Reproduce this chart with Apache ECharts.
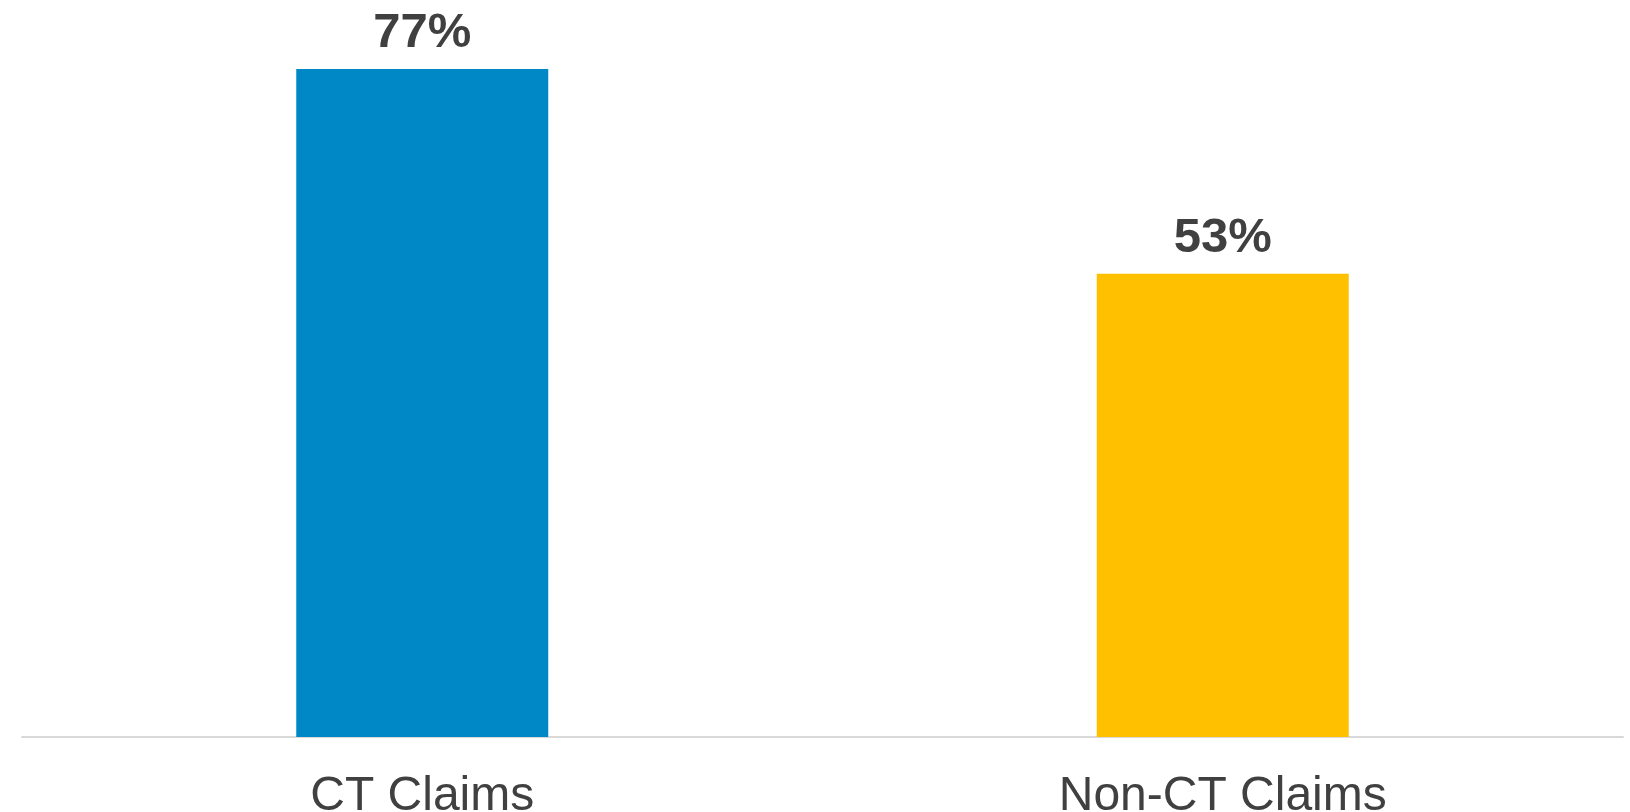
<!DOCTYPE html>
<html>
<head>
<meta charset="utf-8">
<script src="https://cdn.jsdelivr.net/npm/echarts@6/dist/echarts.min.js"></script>
<style>
  html,body{margin:0;padding:0;background:#fff;}
  #chart{width:1630px;height:812px;}
</style>
</head>
<body>
<div id="chart"></div>
<script>
var categories = ['CT Claims', 'Non-CT Claims'];
var shares = [77, 53.4]; // percent
var barColors = ['#0088c6', '#ffc000'];

var chart = echarts.init(document.getElementById('chart'), null, {renderer: 'canvas'});

var option = {
    animation: false,
    grid: {left: 22, right: 7, top: 43, bottom: 75, containLabel: false, outerBoundsMode: 'none'},
    xAxis: {
        type: 'category',
        data: categories,
        axisLine: {show: true, lineStyle: {color: '#d9d9d9', width: 2}},
        axisTick: {show: false},
        axisLabel: {
            color: '#404040',
            fontFamily: 'Liberation Sans, Arial, sans-serif',
            fontSize: 48,
            margin: 36
        }
    },
    yAxis: {
        type: 'value',
        min: 0,
        max: 80,
        show: false,
        splitLine: {show: false}
    },
    series: [{
        type: 'bar',
        barWidth: 252,
        data: shares.map(function(v, i){
            return {value: v, itemStyle: {color: barColors[i]}};
        }),
        label: {
            show: true,
            position: 'top',
            distance: 11,
            color: '#404040',
            fontFamily: 'Liberation Sans, Arial, sans-serif',
            fontWeight: 'bold',
            fontSize: 49,
            formatter: function(p){ return Math.round(p.value) + '%'; }
        }
    }]
};
chart.setOption(option);
</script>
</body>
</html>
